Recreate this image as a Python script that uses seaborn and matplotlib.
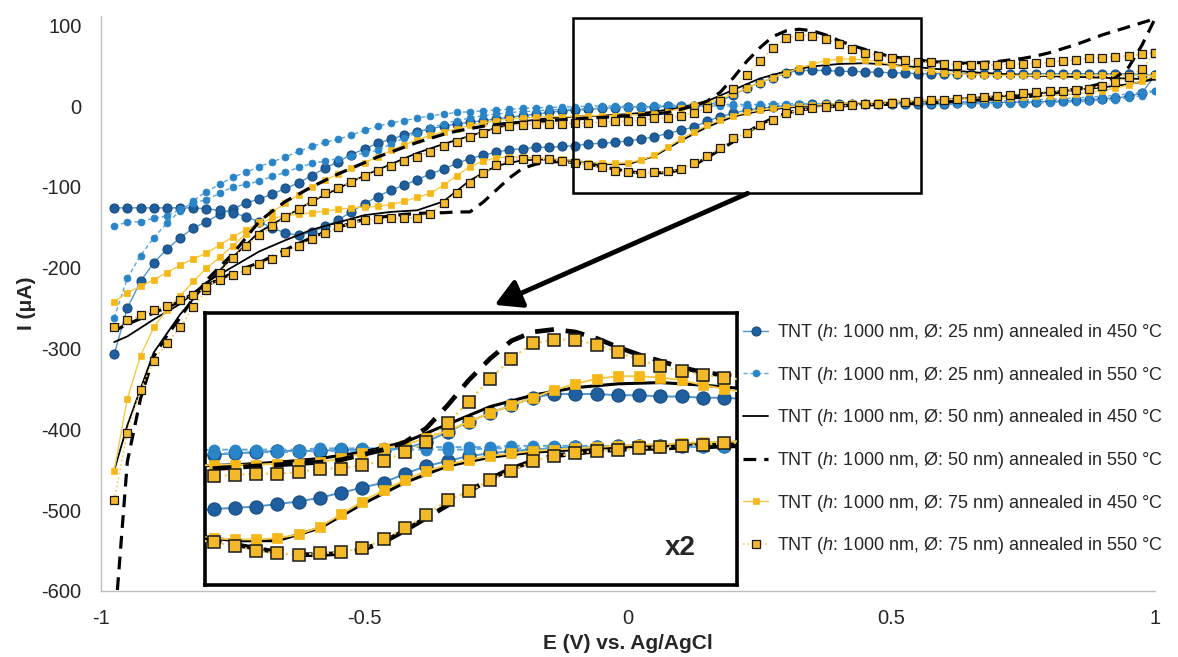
import numpy as np
import matplotlib
matplotlib.use("Agg")
import matplotlib.pyplot as plt
import matplotlib.patches as patches
import seaborn as sns

sns.set_style("white")
plt.rcParams['font.family'] = ['Liberation Sans', 'DejaVu Sans']
plt.rcParams['mathtext.fontset'] = 'custom'
plt.rcParams['mathtext.it'] = 'Liberation Sans:italic'
plt.rcParams['mathtext.rm'] = 'Liberation Sans'

# potential grid (V): traces every 25 mV, the plain black 450 °C trace every 50 mV
E = np.round(np.arange(-0.975, 1.0001, 0.025), 3)
E_k = np.r_[-0.975, E[1::2]]

# current (uA), forward (anodic) and reverse (cathodic) scan, both listed at increasing E
b450_fwd = [-307, -250, -217, -194, -177, -163, -151, -143, -134, -127,
            -120, -115, -109, -102, -95, -86, -77, -69, -60, -53,
            -46, -41, -36, -32, -28, -25, -22, -20, -18, -16,
            -14, -12, -10, -8, -6, -5, -4, -3, -2, -1,
            -1, -1, 0, 0, 0, 1, 6, 14, 22, 29,
            35, 41, 44, 44, 44, 43, 43, 42, 42, 41,
            41, 40, 40, 40, 40, 40, 40, 40, 40, 40,
            40, 40, 40, 40, 40, 40, 40, 40, 39, 38]
b450_rev = [-126, -126, -126, -126, -126, -126, -126, -127, -129, -132,
            -137, -143, -151, -157, -160, -156, -149, -141, -131, -121,
            -112, -104, -98, -91, -84, -78, -71, -65, -61, -57,
            -54, -53, -51, -51, -50, -49, -47, -46, -45, -43,
            -41, -38, -34, -30, -26, -19, -13, -9, -5, -3,
            -1, 0, 1, 2, 2, 3, 3, 3, 3, 3,
            3, 3, 3, 3, 4, 4, 4, 4, 5, 5,
            5, 6, 6, 7, 8, 9, 10, 12, 16, 38]

b550_fwd = [-262, -213, -185, -163, -145, -130, -117, -106, -97, -88,
            -82, -75, -69, -63, -56, -50, -45, -41, -36, -30,
            -25, -21, -18, -15, -12, -10, -8, -7, -6, -5,
            -4, -3, -2, -2, -1, -1, 0, 0, 0, 0,
            0, 1, 1, 1, 1, 2, 2, 2, 2, 2,
            3, 3, 3, 3, 3, 3, 4, 4, 4, 4,
            4, 5, 5, 5, 5, 6, 6, 6, 7, 7,
            8, 8, 9, 10, 11, 12, 13, 15, 17, 19]
b550_rev = [-148, -144, -143, -139, -136, -128, -120, -116, -108, -100,
            -97, -93, -87, -82, -76, -71, -68, -65, -62, -58,
            -55, -47, -40, -33, -27, -22, -18, -15, -12, -10,
            -8, -7, -6, -5, -4, -4, -3, -3, -2, -2,
            -2, -1, -1, -1, 0, 0, 0, 0, 0, 1,
            1, 1, 1, 1, 1, 1, 1, 2, 2, 2,
            2, 2, 2, 2, 2, 3, 3, 3, 3, 3,
            4, 4, 5, 5, 6, 7, 8, 10, 13, 19]

k450_fwd = [-451, -395, -305, -258, -220, -187, -156, -137, -118, -102,
            -86, -72, -58, -47, -37, -27, -19, -15, -13, -12,
            -10, -7, -2, 6, 20, 34, 43, 49, 52, 53,
            51, 48, 45, 42, 40, 38, 37, 36, 35, 34, 33]
k450_rev = [-292, -285, -264, -245, -218, -199, -180, -166, -153, -144,
            -135, -131, -129, -118, -92, -74, -67, -66, -68, -72,
            -72, -62, -43, -26, -13, -6, -2, 0, 2, 3,
            5, 6, 8, 10, 12, 14, 17, 20, 23, 27, 33]

k550_fwd = [-650, -440, -362, -310, -284, -262, -238, -216, -199, -183,
            -163, -143, -130, -118, -109, -100, -92, -84, -77, -70,
            -63, -57, -51, -45, -40, -35, -31, -28, -25, -23,
            -21, -20, -19, -18, -17, -16, -15, -14, -13, -12,
            -11, -10, -8, -4, 0, 6, 17, 35, 55, 72,
            86, 93, 95, 93, 88, 81, 75, 70, 65, 61,
            59, 57, 55, 54, 53, 53, 54, 55, 57, 59,
            62, 66, 71, 76, 82, 88, 93, 98, 103, 108]
k550_rev = [-278, -270, -263, -256, -249, -242, -232, -222, -214, -207,
            -200, -194, -186, -178, -170, -163, -156, -150, -145, -140,
            -138, -136, -134, -133, -132, -132, -131, -131, -119, -104,
            -89, -77, -72, -69, -69, -70, -72, -75, -78, -81,
            -83, -83, -82, -79, -73, -64, -54, -44, -33, -23,
            -15, -9, -5, -3, -1, 0, 1, 1, 2, 2,
            3, 3, 4, 5, 6, 7, 8, 9, 10, 11,
            13, 15, 18, 21, 24, 28, 35, 48, 75, 108]

g450_fwd = [-451, -362, -309, -274, -252, -235, -217, -201, -187, -173,
            -158, -143, -131, -120, -110, -100, -92, -84, -77, -70,
            -63, -55, -48, -42, -36, -32, -28, -24, -21, -18,
            -16, -15, -14, -13, -13, -13, -12, -12, -12, -11,
            -11, -10, -7, -3, 1, 4, 9, 15, 22, 29,
            35, 41, 47, 52, 56, 58, 58, 57, 55, 51,
            48, 45, 43, 41, 40, 39, 39, 38, 38, 38,
            38, 38, 38, 38, 38, 38, 38, 38, 38, 38]
g450_rev = [-242, -231, -223, -215, -206, -197, -189, -182, -172, -162,
            -153, -145, -139, -136, -134, -132, -130, -128, -126, -125,
            -124, -122, -118, -113, -108, -98, -86, -75, -68, -64,
            -63, -63, -64, -65, -66, -68, -70, -71, -71, -70,
            -67, -61, -51, -41, -32, -24, -17, -12, -8, -5,
            -3, -1, 0, 1, 2, 3, 4, 4, 5, 6,
            6, 7, 7, 8, 8, 9, 9, 10, 10, 11,
            12, 13, 14, 15, 17, 19, 22, 26, 31, 38]

g550_fwd = [-488, -404, -351, -315, -293, -274, -249, -228, -207, -188,
            -173, -160, -149, -137, -127, -118, -108, -101, -94, -87,
            -80, -74, -68, -63, -57, -50, -44, -38, -33, -28,
            -25, -23, -22, -22, -22, -21, -21, -20, -19, -19,
            -18, -15, -15, -12, -9, -2, 6, 21, 38, 56,
            72, 84, 87, 87, 83, 77, 71, 66, 62, 59,
            57, 55, 54, 52, 51, 51, 51, 51, 52, 52,
            53, 54, 56, 57, 59, 60, 61, 62, 64, 66]
g550_rev = [-273, -265, -259, -252, -247, -240, -234, -224, -215, -209,
            -203, -196, -189, -180, -173, -164, -157, -150, -145, -141,
            -140, -139, -139, -138, -133, -120, -107, -95, -83, -73,
            -67, -65, -65, -66, -68, -71, -73, -76, -80, -82,
            -83, -82, -81, -78, -71, -62, -52, -40, -33, -24,
            -17, -9, -5, -3, -1, 0, 1, 2, 3, 4,
            5, 6, 7, 8, 9, 10, 11, 13, 14, 16,
            17, 18, 19, 20, 21, 25, 30, 36, 46, 66]

labels = ["TNT ($\\it{h}$: 1000 nm, Ø: 25 nm) annealed in 450 °C",
          "TNT ($\\it{h}$: 1000 nm, Ø: 25 nm) annealed in 550 °C",
          "TNT ($\\it{h}$: 1000 nm, Ø: 50 nm) annealed in 450 °C",
          "TNT ($\\it{h}$: 1000 nm, Ø: 50 nm) annealed in 550 °C",
          "TNT ($\\it{h}$: 1000 nm, Ø: 75 nm) annealed in 450 °C",
          "TNT ($\\it{h}$: 1000 nm, Ø: 75 nm) annealed in 550 °C"]


def loop(e, fwd, rev):
    # closed voltammogram: forward scan then back
    return np.r_[e, e[::-1]], np.r_[fwd, np.asarray(rev)[::-1]]


curves = [loop(E, b450_fwd, b450_rev), loop(E, b550_fwd, b550_rev),
          loop(E_k, k450_fwd, k450_rev), loop(E, k550_fwd, k550_rev),
          loop(E, g450_fwd, g450_rev), loop(E, g550_fwd, g550_rev)]

styles = [dict(color='#4f95cf', marker='o', markersize=6.5, markerfacecolor='#1f5f9f',
               markeredgecolor='#174b7d', markeredgewidth=0.8, linewidth=1.0, linestyle='-', zorder=2),
          dict(color='#5aa6df', marker='o', markersize=5, markerfacecolor='#2a84c8',
               markeredgecolor='#2a84c8', markeredgewidth=0.5, linewidth=1.0, linestyle=(0, (3, 2)), zorder=2),
          dict(color='black', linewidth=1.3, linestyle='-', zorder=3),
          dict(color='black', linewidth=2.3, linestyle=(0, (4, 2.5)), zorder=4),
          dict(color='#f7c948', marker='s', markersize=5, markerfacecolor='#f5b818',
               markeredgecolor='#f5b818', markeredgewidth=0.5, linewidth=1.0, linestyle='-', zorder=3),
          dict(color='#f7cd55', marker='s', markersize=6, markerfacecolor='#f4b92b',
               markeredgecolor='#1a1a1a', markeredgewidth=0.9, linewidth=1.2, linestyle=':', zorder=5)]

fig = plt.figure(figsize=(11.78, 6.57), dpi=100)
ax = fig.add_axes([101 / 1178, 1 - 591 / 657, (1155 - 101) / 1178, (591 - 15.5) / 657])

for (x, y), st, lab in zip(curves, styles, labels):
    sns.lineplot(x=x, y=y, sort=False, estimator=None, ax=ax, label=lab, **st)

ax.set_xlim(-1, 1)
ax.set_ylim(-600, 112)
ax.set_xticks([-1, -0.5, 0, 0.5, 1])
ax.set_xticklabels(['-1', '-0.5', '0', '0.5', '1'])
ax.set_yticks(range(-600, 101, 100))
ax.set_yticklabels([str(v) for v in range(-600, 101, 100)])
for s in ['top', 'right']:
    ax.spines[s].set_visible(False)
for s in ['left', 'bottom']:
    ax.spines[s].set_color('#bfbfbf')
    ax.spines[s].set_linewidth(1.0)
ax.tick_params(axis='both', direction='out', length=5, color='#bfbfbf', labelsize=14.5)
ax.tick_params(axis='x', pad=8)
ax.tick_params(axis='y', pad=9)
ax.set_xlabel("E (V) vs. Ag/AgCl", fontsize=15, fontweight='bold', labelpad=4)
ax.set_ylabel("I (μA)", fontsize=15, fontweight='bold', labelpad=4)

# zoom window and arrow towards the inset
ax.add_patch(patches.Rectangle((-0.105, -107.5), 0.661, 216.5, fill=False,
                               edgecolor='black', linewidth=1.8, zorder=10))
ax.annotate('', xy=(-0.253, -246), xytext=(0.227, -108),
            arrowprops=dict(arrowstyle='-|>,head_length=0.8,head_width=0.45', lw=3.5,
                            color='black', shrinkA=0, shrinkB=0, mutation_scale=20),
            zorder=10)

ax.legend(loc='upper left', bbox_to_anchor=(743 / 1178, 1 - 322 / 657),
          bbox_transform=fig.transFigure, frameon=False, fontsize=13,
          labelspacing=1.2, handlelength=1.4, handletextpad=0.5,
          borderpad=0, borderaxespad=0, numpoints=1)

# inset x2
axi = fig.add_axes([205 / 1178, 1 - 585 / 657, 532 / 1178, 272 / 657])
axi.set_facecolor('white')
big = [dict(markersize=9.5, linewidth=1.4), dict(markersize=8, linewidth=1.4),
       dict(linewidth=2.2), dict(linewidth=3.4), dict(markersize=7.5, linewidth=1.4),
       dict(markersize=9, linewidth=1.6, markeredgewidth=1.1)]
for (x, y), st, b in zip(curves, styles, big):
    s2 = dict(st)
    s2.update(b)
    sns.lineplot(x=x, y=y, sort=False, estimator=None, ax=axi, legend=False, **s2)
axi.set_xlim(-0.085, 0.54)
axi.set_ylim(-107, 108)
axi.set_xticks([])
axi.set_yticks([])
axi.set_xlabel('')
axi.set_ylabel('')
for s in axi.spines.values():
    s.set_visible(True)
    s.set_color('black')
    s.set_linewidth(2.6)
axi.text(0.893, 0.135, 'x2', transform=axi.transAxes, fontsize=20, fontweight='bold',
         ha='center', va='center')

fig.savefig("out.png", dpi=100)
